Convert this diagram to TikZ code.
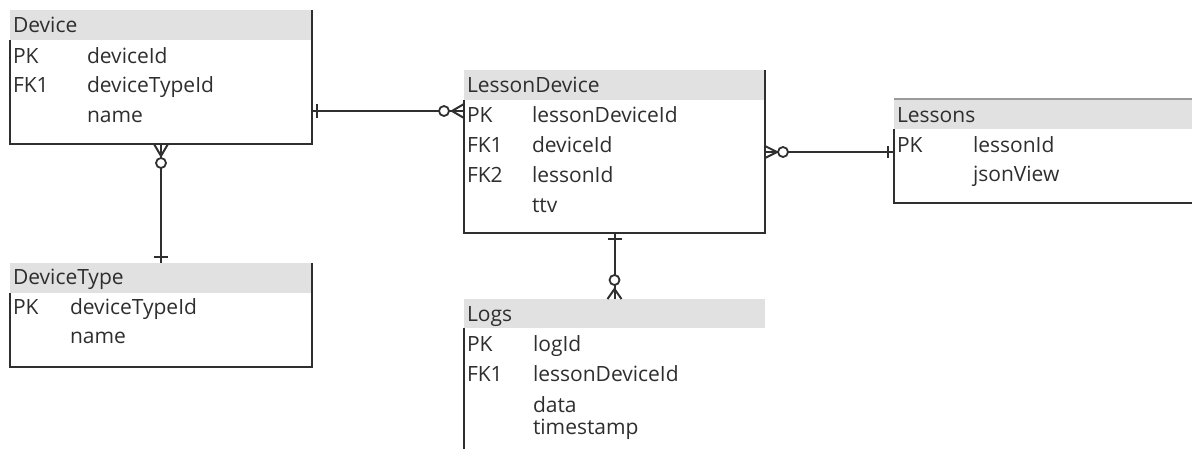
\documentclass[tikz,border=0pt]{standalone}
\usepackage{fontspec}
\setmainfont{Open Sans}
\definecolor{hdrgray}{HTML}{E1E1E1}
\definecolor{txtgray}{HTML}{2E2E2E}
\definecolor{linegray}{HTML}{2F2F2F}
\definecolor{lightline}{HTML}{9A9A9A}
\begin{document}
\begin{tikzpicture}[x=1pt,y=-1pt,
  hdr/.style={fill=hdrgray,draw=none,anchor=north west,minimum height=30pt,inner sep=0pt,outer sep=0pt},
  bodybox/.style={draw=none,anchor=north west,inner sep=0pt,outer sep=0pt},
  txt/.style={anchor=base west,inner sep=0pt,outer sep=0pt,text=txtgray,font=\fontsize{21}{24}\selectfont},
  border/.style={draw=linegray,line width=2.2pt},
  conn/.style={draw=linegray,line width=2pt},
  ring/.style={draw=linegray,line width=1.8pt,fill=white}]
\useasboundingbox (0,0) rectangle (1192,448);
\clip (0,0) rectangle (1192,448);

% ---------- Device ----------
\node[hdr,minimum width=302pt] (deviceH) at (10,10) {};
\node[bodybox,minimum width=302pt,minimum height=104pt] (deviceB) at (10,40) {};
\draw[border] (deviceB.north west) -- (deviceB.south west) -- (deviceB.south east) -- (deviceH.north east);
\node[txt] (deviceT) at (13,32) {Device};
\node[txt] (deviceK1) at (13,63) {PK};
\node[txt] (deviceF1) at (87,63) {deviceId};
\node[txt] (deviceK2) at (13,92) {FK1};
\node[txt] (deviceF2) at (87,92) {deviceTypeId};
\node[txt] (deviceF3) at (87,122) {name};

% ---------- DeviceType ----------
\node[hdr,minimum width=302pt] (dtH) at (10,263) {};
\node[bodybox,minimum width=302pt,minimum height=74pt] (dtB) at (10,293) {};
\draw[border] (dtB.north west) -- (dtB.south west) -- (dtB.south east) -- (dtH.north east);
\node[txt] (dtT) at (13,284) {DeviceType};
\node[txt] (dtK1) at (13,314) {PK};
\node[txt] (dtF1) at (70,314) {deviceTypeId};
\node[txt] (dtF2) at (70,343) {name};

% ---------- LessonDevice ----------
\node[hdr,minimum width=301pt] (ldH) at (464,70) {};
\node[bodybox,minimum width=301pt,minimum height=133pt] (ldB) at (464,100) {};
\draw[border] (ldB.north west) -- (ldB.south west) -- (ldB.south east) -- (ldH.north east);
\node[txt] (ldT) at (467,92) {LessonDevice};
\node[txt] (ldK1) at (467,122) {PK};
\node[txt] (ldF1) at (532,122) {lessonDeviceId};
\node[txt] (ldK2) at (467,152) {FK1};
\node[txt] (ldF2) at (532,152) {deviceId};
\node[txt] (ldK3) at (467,182) {FK2};
\node[txt] (ldF3) at (532,182) {lessonId};
\node[txt] (ldF4) at (532,212) {ttv};

% ---------- Lessons ----------
\node[hdr,minimum width=320pt] (lsH) at (894,99) {};
\node[bodybox,minimum width=320pt,minimum height=74pt] (lsB) at (894,129) {};
\draw[lightline,line width=1.2pt] (lsH.north west) -- (lsH.north east);
\draw[border] (lsB.north west) -- (lsB.south west) -- (lsB.south east);
\node[txt] (lsT) at (897,122) {Lessons};
\node[txt] (lsK1) at (897,152) {PK};
\node[txt] (lsF1) at (973,152) {lessonId};
\node[txt] (lsF2) at (973,181) {jsonView};

% ---------- Logs ----------
\node[hdr,minimum width=301pt,minimum height=29pt] (lgH) at (464,299) {};
\node[bodybox,minimum width=301pt,minimum height=130pt] (lgB) at (464,328) {};
\draw[border] (lgB.north west) -- (lgB.south west);
\node[txt] (lgT) at (467,321) {Logs};
\node[txt] (lgK1) at (467,351) {PK};
\node[txt] (lgF1) at (533,351) {logId};
\node[txt] (lgK2) at (467,381) {FK1};
\node[txt] (lgF2) at (533,381) {lessonDeviceId};
\node[txt] (lgF3) at (533,412) {data};
\node[txt] (lgF4) at (533,434) {timestamp};

% ---------- connectors ----------
\coordinate (yA) at (0,111);
\coordinate (yB) at (0,152);

% Device -> LessonDevice
\coordinate (aS) at (deviceB.east |- yA);
\coordinate (aE) at (ldB.west |- yA);
\draw[conn] (aS) -- (aE);
\draw[conn] ([xshift=5pt,yshift=7pt]aS) -- ([xshift=5pt,yshift=-7pt]aS);
\draw[conn] ([yshift=7pt]aE) -- ([xshift=-12pt]aE) -- ([yshift=-7pt]aE);
\draw[ring] ([xshift=-20pt]aE) circle (5pt);

% LessonDevice -> Lessons
\coordinate (bS) at (ldB.east |- yB);
\coordinate (bE) at (lsB.west |- yB);
\draw[conn] (bS) -- (bE);
\draw[conn] ([yshift=6pt]bS) -- ([xshift=12pt]bS) -- ([yshift=-6pt]bS);
\draw[ring] ([xshift=18pt]bS) circle (5pt);
\draw[conn] ([xshift=-6pt,yshift=6pt]bE) -- ([xshift=-6pt,yshift=-6pt]bE);

% LessonDevice -> Logs
\draw[conn] (ldB.south) -- (lgH.north);
\draw[conn] ([xshift=-7pt,yshift=-6pt]ldB.south) -- ([xshift=7pt,yshift=-6pt]ldB.south);
\draw[conn] ([xshift=-7pt]lgH.north) -- ([yshift=10pt]lgH.north) -- ([xshift=7pt]lgH.north);
\draw[ring] ([yshift=19pt]lgH.north) circle (5pt);

% Device -> DeviceType
\draw[conn] (deviceB.south) -- (dtH.north);
\draw[conn] ([xshift=-7pt]deviceB.south) -- ([yshift=-12pt]deviceB.south) -- ([xshift=7pt]deviceB.south);
\draw[ring] ([yshift=-19pt]deviceB.south) circle (5pt);
\draw[conn] ([xshift=-7pt,yshift=6pt]dtH.north) -- ([xshift=7pt,yshift=6pt]dtH.north);
\end{tikzpicture}
\end{document}
